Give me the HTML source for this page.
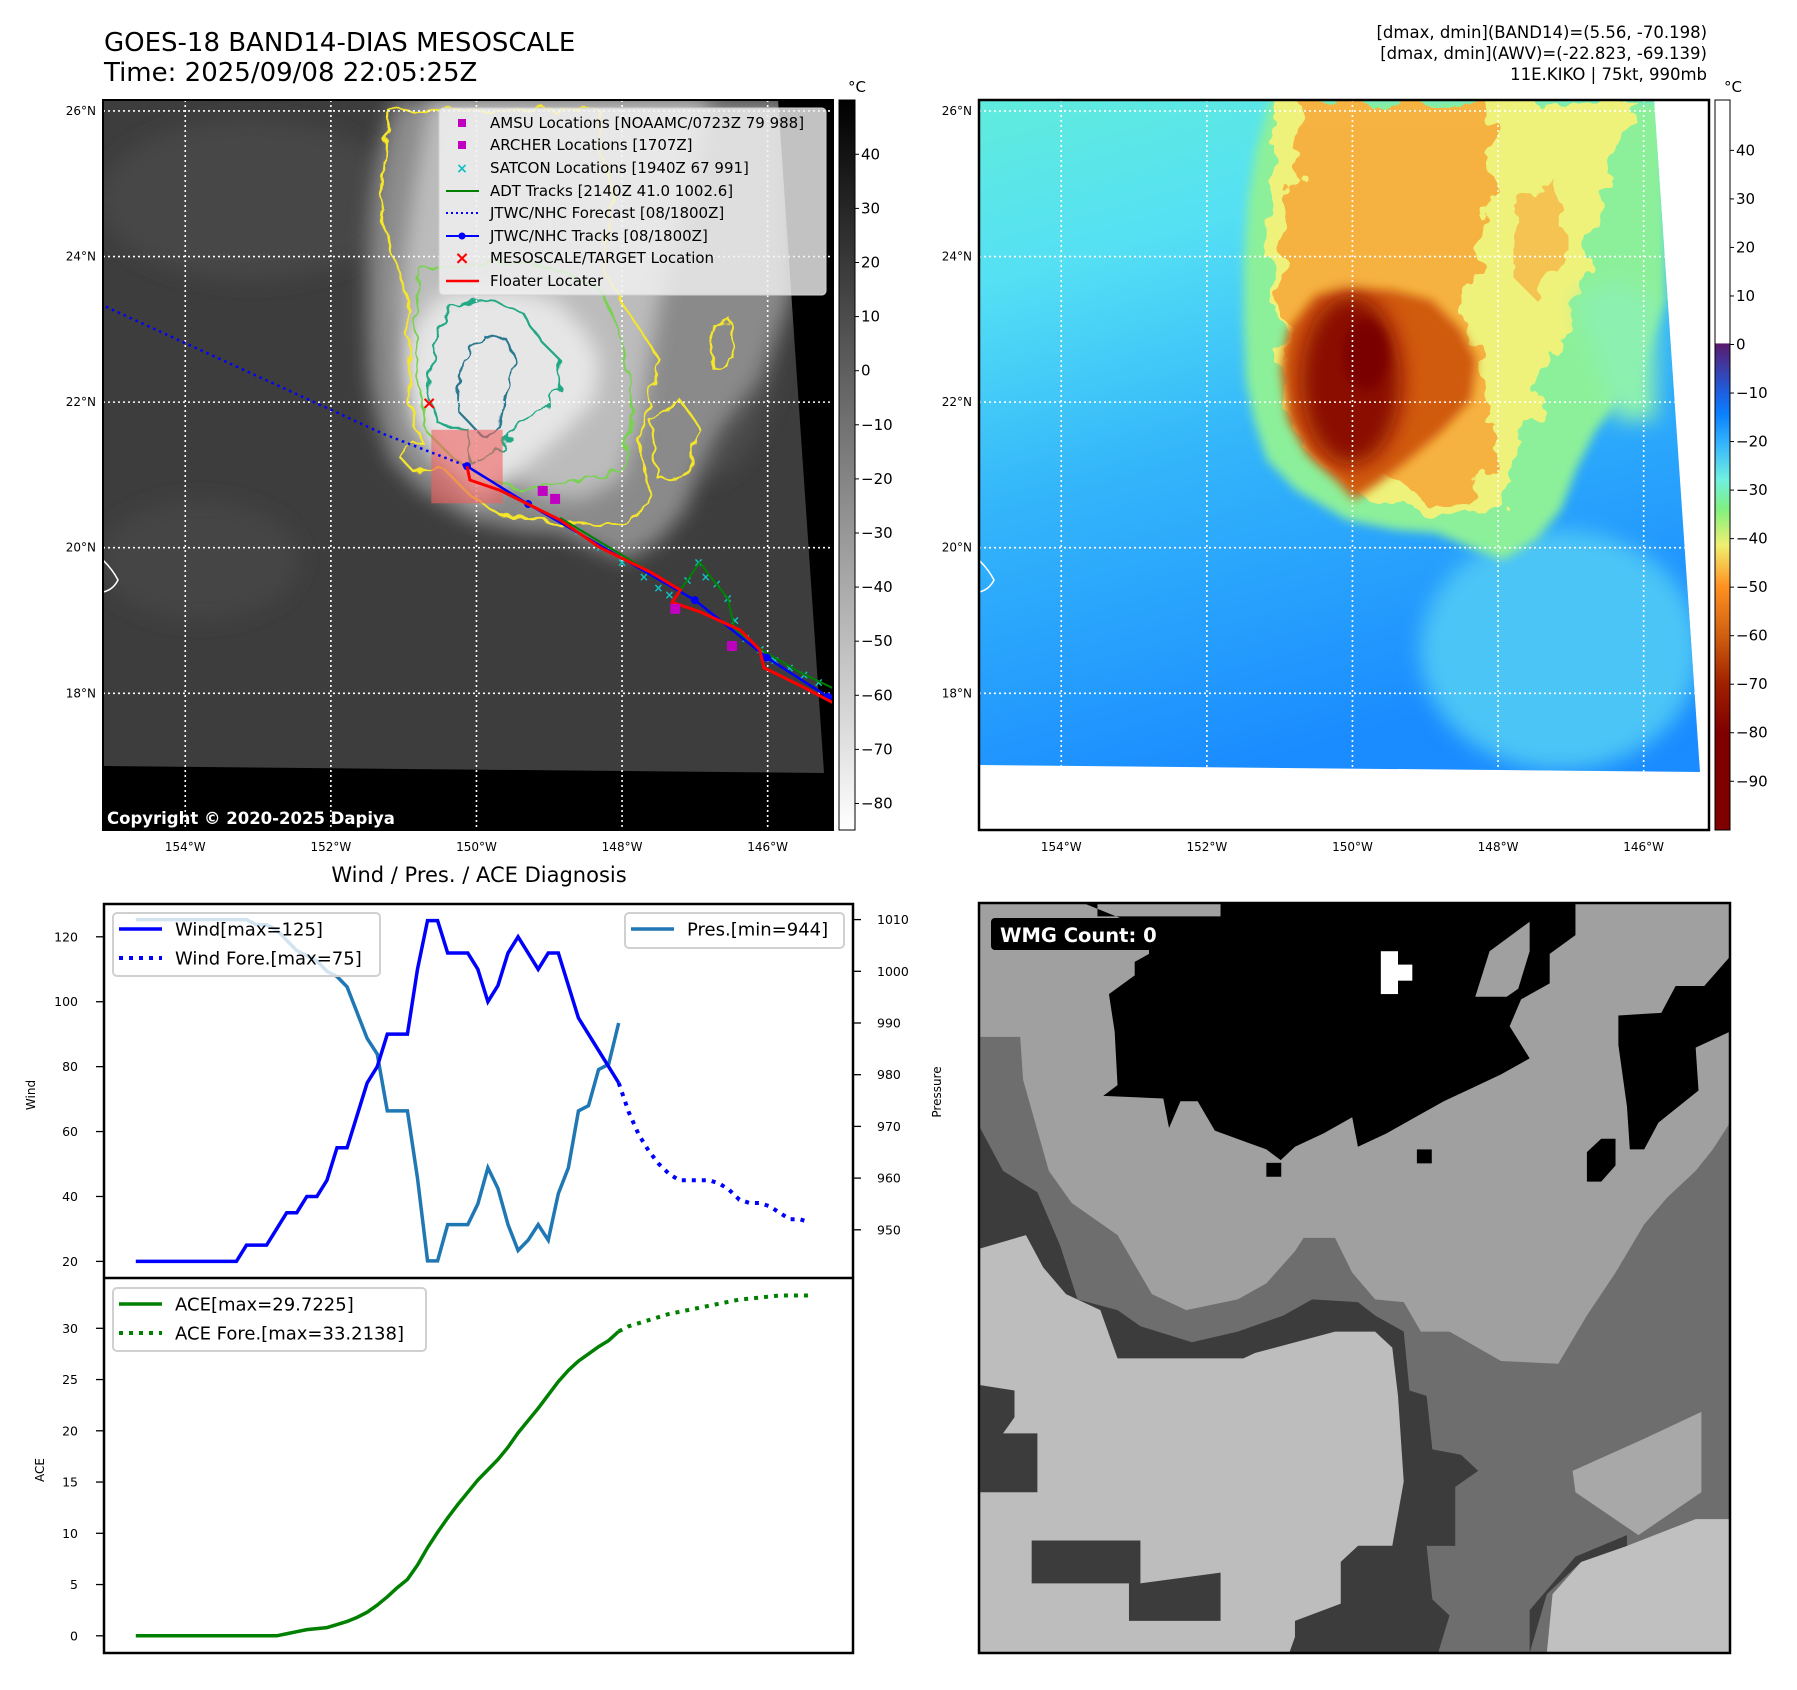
<!DOCTYPE html>
<html><head><meta charset="utf-8"><title>GOES-18 BAND14 DIAS Mesoscale - KIKO</title>
<style>
html,body{margin:0;padding:0;background:#fff;}
svg{display:block;font-family:"DejaVu Sans","Liberation Sans",sans-serif;}
</style></head>
<body>
<svg id="fig" width="1797" height="1690" viewBox="0 0 1797 1690" xmlns="http://www.w3.org/2000/svg">
<defs>
  <filter id="blur4" x="-20%" y="-20%" width="140%" height="140%"><feGaussianBlur stdDeviation="5"/></filter>
  <filter id="blur8" x="-20%" y="-20%" width="140%" height="140%"><feGaussianBlur stdDeviation="10"/></filter>
  <filter id="rough" x="-5%" y="-5%" width="110%" height="110%">
    <feTurbulence type="fractalNoise" baseFrequency="0.06" numOctaves="2" seed="3" result="n"/>
    <feDisplacementMap in="SourceGraphic" in2="n" scale="14"/>
  </filter>
  <filter id="patchy" x="-5%" y="-5%" width="110%" height="110%">
    <feTurbulence type="fractalNoise" baseFrequency="0.035" numOctaves="3" seed="7" result="n"/>
    <feDisplacementMap in="SourceGraphic" in2="n" scale="40"/>
  </filter>
  <clipPath id="clipL"><polygon points="103,100 778,100 824,773 103,766"/></clipPath>
  <clipPath id="clipR"><polygon points="979,100 1654,100 1700,772 979,765"/></clipPath>
  <clipPath id="frameL"><rect x="103" y="100" width="730" height="730"/></clipPath>
  <linearGradient id="gcbL" x1="0" y1="0" x2="0" y2="1">
    <stop offset="0" stop-color="#000"/><stop offset="1" stop-color="#fff"/>
  </linearGradient>
  <linearGradient id="gcbR" x1="0" y1="0" x2="0" y2="1">
    <stop offset="0" stop-color="#fff"/><stop offset="0.333" stop-color="#fff"/>
    <stop offset="0.334" stop-color="#5a1a6e"/><stop offset="0.40" stop-color="#1e5ee0"/>
    <stop offset="0.43" stop-color="#0a80ff"/><stop offset="0.467" stop-color="#30b0ff"/>
    <stop offset="0.52" stop-color="#70f0e0"/><stop offset="0.56" stop-color="#80f080"/>
    <stop offset="0.61" stop-color="#f0f070"/><stop offset="0.667" stop-color="#ff9020"/>
    <stop offset="0.733" stop-color="#d06010"/><stop offset="0.80" stop-color="#a02000"/>
    <stop offset="0.867" stop-color="#800000"/><stop offset="1" stop-color="#800000"/>
  </linearGradient>
  <linearGradient id="gSea" x1="0" y1="0" x2="0.3" y2="1">
    <stop offset="0" stop-color="#60ecdc"/><stop offset="0.25" stop-color="#55e0f4"/>
    <stop offset="0.55" stop-color="#34b6fa"/><stop offset="1" stop-color="#1a8cff"/>
  </linearGradient>
</defs>

<!-- Titles -->
<text x="104" y="51" font-size="26">GOES-18 BAND14-DIAS MESOSCALE</text>
<text x="104" y="81" font-size="26">Time: 2025/09/08 22:05:25Z</text>
<g font-size="16.5" text-anchor="end">
  <text x="1707" y="38">[dmax, dmin](BAND14)=(5.56, -70.198)</text>
  <text x="1707" y="59">[dmax, dmin](AWV)=(-22.823, -69.139)</text>
  <text x="1707" y="80">11E.KIKO | 75kt, 990mb</text>
</g>

<!-- LEFT MAP -->
<g>
  <rect x="103" y="100" width="730" height="730" fill="#000"/>
  <g clip-path="url(#clipL)">
    <rect x="103" y="100" width="730" height="680" fill="#3d3d3d"/>
    <ellipse cx="250" cy="200" rx="150" ry="80" fill="#474747" filter="url(#blur8)"/>
    <ellipse cx="200" cy="560" rx="100" ry="60" fill="#444" filter="url(#blur8)"/>
    <ellipse cx="700" cy="330" rx="80" ry="150" fill="#4c4c4c" filter="url(#blur8)"/>
    <g>
      <polygon points="395,100 380,150 372,200 368,260 368,320 370,380 378,420 391,460 420,490 471,520 520,530 560,533 600,550 627,560 660,540 685,510 700,470 720,430 760,380 790,300 790,100" fill="#8a8a8a" filter="url(#blur8)"/>
      <polygon points="430,100 415,180 405,250 400,300 405,350 420,390 440,420 470,445 500,470 540,495 580,500 620,480 640,420 650,360 660,300 680,230 700,150 710,100" fill="#bcbcbc" filter="url(#blur8)"/>
      <polygon points="440,295 412,330 405,370 412,420 432,455 460,480 478,500 500,485 530,462 565,432 595,400 600,360 585,330 555,300 515,290 475,290" fill="#e6e6e6" filter="url(#blur8)"/>
    </g>
    <g fill="none" stroke-width="2.2" filter="url(#rough)">
      <polygon points="388,110 385,160 380,210 395,260 408,300 408,350 410,400 420,440 398,455 412,470 445,470 470,495 500,515 560,522 620,525 650,505 645,470 640,440 648,400 660,360 640,330 620,300 605,270 605,230 615,200 600,150 600,110" stroke="#f5e62a"/>
      <polygon points="420,270 415,320 418,380 425,430 450,455 480,475 520,490 580,480 620,470 632,430 630,380 620,330 600,290 560,270 520,262 470,265" stroke="#7ad151"/>
      <polygon points="440,320 432,360 430,400 440,425 468,430 470,463 500,450 520,420 540,410 560,390 560,360 540,340 520,310 490,300 460,303" stroke="#22a884"/>
      <polygon points="483,335 463,360 457,393 460,413 483,437 500,420 507,387 517,360 507,340" stroke="#2a788e"/>
      <polygon points="650,420 680,400 700,430 690,470 660,480" stroke="#f5e62a"/>
      <polygon points="710,330 730,320 735,360 715,370" stroke="#f5e62a"/>
    </g>
    <path d="M103,560 q10,10 15,20 q-5,10 -15,12" fill="none" stroke="#fff" stroke-width="1.5"/>
  </g>
  <g id="gridL" stroke="#fff" stroke-width="1.6" stroke-dasharray="2,3" clip-path="url(#frameL)"></g>
  <rect id="redbox" fill="#f06060" fill-opacity="0.6"/>
  <g id="tracks"></g>
  <text x="107" y="824" font-size="16.5" font-weight="bold" fill="#fff">Copyright © 2020-2025 Dapiya</text>
  <rect x="103" y="100" width="730" height="730" fill="none" stroke="#000" stroke-width="2"/>
  <g>
    <rect x="439" y="108" width="387" height="187" rx="4" fill="#f2f2f2" fill-opacity="0.8" stroke="#d0d0d0"/>
    <g font-size="15">
      <rect x="458" y="119" width="8" height="8" fill="#c000c0"/><text x="490" y="128">AMSU Locations [NOAAMC/0723Z 79 988]</text>
      <rect x="458" y="141" width="8" height="8" fill="#c000c0"/><text x="490" y="150">ARCHER Locations [1707Z]</text>
      <text x="462" y="173" fill="#10c0c0" font-size="14" font-weight="bold" text-anchor="middle">×</text><text x="490" y="173">SATCON Locations [1940Z 67 991]</text>
      <line x1="446" y1="191" x2="479" y2="191" stroke="#008000" stroke-width="2"/><text x="490" y="196">ADT Tracks [2140Z 41.0 1002.6]</text>
      <line x1="446" y1="213" x2="479" y2="213" stroke="#0000ff" stroke-width="2" stroke-dasharray="2,3"/><text x="490" y="218">JTWC/NHC Forecast [08/1800Z]</text>
      <line x1="446" y1="236" x2="479" y2="236" stroke="#0000ff" stroke-width="2"/><circle cx="462" cy="236" r="3.5" fill="#0000ff"/><text x="490" y="241">JTWC/NHC Tracks [08/1800Z]</text>
      <text x="462" y="264" fill="#ff0000" font-size="18" font-weight="bold" text-anchor="middle">×</text><text x="490" y="263">MESOSCALE/TARGET Location</text>
      <line x1="446" y1="281" x2="479" y2="281" stroke="#ff0000" stroke-width="2.5"/><text x="490" y="286">Floater Locater</text>
    </g>
  </g>
  <rect x="839" y="100" width="16" height="730" fill="url(#gcbL)" stroke="#000" stroke-width="1"/>
  <text x="848" y="92" font-size="15">°C</text>
  <g id="cbL" font-size="15"></g>
</g>

<!-- RIGHT MAP -->
<g>
  <rect x="979" y="100" width="730" height="730" fill="#fff"/>
  <g clip-path="url(#clipR)">
    <rect x="979" y="100" width="730" height="680" fill="url(#gSea)"/>
    <ellipse cx="1560" cy="650" rx="140" ry="120" fill="#4cc4f6" filter="url(#blur8)"/>
    <g transform="translate(876,0)">
      <polygon points="395,100 380,150 372,200 368,260 368,320 370,380 378,420 391,460 420,490 471,520 520,530 560,533 600,550 627,560 660,540 685,510 700,470 720,430 760,380 790,300 790,100" fill="#8cf09a" filter="url(#blur4)"/>
      <polygon points="400,100 392,180 390,250 400,300 405,350 410,400 420,440 450,470 500,500 560,515 620,510 640,470 650,420 680,360 700,300 720,220 740,150 760,100" fill="#eef27a" filter="url(#patchy)"/>
      <polygon points="700,300 740,280 780,300 780,420 740,420" fill="#8cf0b0" filter="url(#blur8)"/>
      <polygon points="430,100 420,180 410,250 405,300 410,350 420,390 440,420 470,445 500,470 540,495 580,500 610,470 620,420 600,360 590,300 610,230 620,150 610,100" fill="#f8a838" filter="url(#patchy)" opacity="0.85"/>
      <polygon points="640,200 680,180 690,260 660,300 640,280" fill="#f8b040" filter="url(#patchy)" opacity="0.7"/>
      <polygon points="440,295 412,330 405,370 412,420 432,455 460,480 478,500 500,485 530,462 565,432 595,400 600,360 585,330 555,300 515,290 475,290" fill="#d05a10" filter="url(#blur4)"/>
      <ellipse cx="475" cy="380" rx="50" ry="85" fill="#8a1000" filter="url(#blur8)"/>
      <ellipse cx="490" cy="355" rx="22" ry="35" fill="#7a0000" filter="url(#blur4)"/>
    </g>
    <path d="M979,560 q10,10 15,20 q-5,10 -15,12" fill="none" stroke="#fff" stroke-width="1.5"/>
  </g>
  <g id="gridR" stroke="#fff" stroke-width="1.6" stroke-dasharray="2,3" clip-path="url(#clipR)"></g>
  <rect x="979" y="100" width="730" height="730" fill="none" stroke="#000" stroke-width="2.5"/>
  <rect x="1715" y="100" width="15" height="730" fill="url(#gcbR)" stroke="#000" stroke-width="1"/>
  <text x="1724" y="92" font-size="15">°C</text>
  <g id="cbR" font-size="15"></g>
</g>
<g id="mapLabels" font-size="12"></g>

<!-- BOTTOM LEFT CHART -->
<text x="479" y="882" font-size="21" text-anchor="middle">Wind / Pres. / ACE Diagnosis</text>
<g id="chart"></g>

<!-- BOTTOM RIGHT -->
<g>
  <svg x="979" y="903" width="751" height="750" viewBox="138 100 1312 1400" preserveAspectRatio="none">
    <rect x="138" y="100" width="1312" height="1400" fill="#a0a0a0"/>
    <polygon fill="#6e6e6e" points="140,350 210,350 215,430 260,600 300,660 380,720 440,830 500,860 590,840 640,810 690,750 705,725 760,725 790,790 830,840 880,845 910,900 960,900 1050,955 1150,960 1200,870 1250,790 1300,700 1340,650 1390,600 1420,560 1450,510 1450,1500 140,1500"/>
    <polygon fill="#3c3c3c" points="140,520 180,600 240,640 280,740 310,840 380,860 420,890 510,920 590,900 670,870 720,840 800,845 830,870 880,900 890,1010 920,1020 930,1120 980,1130 1010,1160 970,1190 970,1300 920,1300 930,1400 960,1430 940,1500 140,1500"/>
    <polygon fill="#bdbdbd" points="140,745 220,720 250,780 290,830 350,860 380,950 600,950 620,940 760,900 830,900 860,930 870,1020 880,1180 860,1300 800,1300 770,1330 770,1430 700,1440 680,1500 140,1500"/>
    <polygon fill="#3c3c3c" points="230,1290 420,1290 420,1370 560,1350 560,1440 400,1440 400,1370 230,1370"/>
    <polygon fill="#3c3c3c" points="140,1000 200,1010 200,1060 180,1090 240,1090 240,1200 190,1200 140,1200"/>
    <polygon fill="#3c3c3c" points="690,1440 790,1400 800,1300 860,1300 870,1500 690,1500"/>
    <polygon fill="#a8a8a8" points="1175,1160 1300,1100 1400,1050 1400,1200 1290,1280 1180,1200"/>
    <polygon fill="#c0c0c0" points="1140,1390 1190,1330 1270,1300 1390,1250 1450,1250 1450,1500 1130,1500"/>
    <polygon fill="#3c3c3c" points="1100,1500 1130,1390 1190,1330 1270,1300 1270,1280 1180,1320 1100,1420"/>
    <polygon fill="#000" points="320,100 345,100 345,125 560,125 560,100 1180,100 1180,160 1135,195 1135,250 1085,280 1065,330 1100,390 1050,420 1000,445 950,470 900,500 850,530 800,555 790,500 740,530 690,555 665,580 640,560 550,525 520,470 490,470 470,520 460,465 355,460 380,440 375,340 365,270 410,235 410,210 435,195 435,150"/>
    <polygon fill="#a0a0a0" points="1030,190 1100,135 1100,190 1080,260 1060,275 1005,275"/>
    <polygon fill="#000" points="1255,310 1330,305 1355,255 1405,255 1450,200 1450,340 1390,370 1395,450 1325,510 1300,560 1275,560 1270,480 1255,365"/>
    <polygon fill="#000" points="1200,565 1225,540 1250,540 1250,590 1225,620 1200,620"/>
    <rect x="840" y="190" width="30" height="80" fill="#fff"/><rect x="865" y="215" width="30" height="30" fill="#fff"/>
    <rect x="903" y="560" width="26" height="26" fill="#000"/><rect x="640" y="585" width="26" height="26" fill="#000"/>
  </svg>
  <rect x="979" y="903" width="751" height="750" fill="none" stroke="#000" stroke-width="2.5"/>
  <rect x="991" y="918" width="180" height="32" rx="4" fill="#000"/>
  <text x="1000" y="942" font-size="19.5" font-weight="bold" fill="#fff">WMG Count: 0</text>
</g>

<script>
// ---- chart data ----
var windObs = [20,20,20,20,20,20,20,20,20,20,20,25,25,25,30,35,35,40,40,45,55,55,65,75,80,90,90,90,110,125,125,115,115,115,110,100,105,115,120,115,110,115,115,105,95,90,85,80,75];
var presObs = [1010,1010,1010,1010,1010,1010,1010,1010,1010,1010,1010,1010,1009,1009,1008,1006,1004,1003,1002,1000,999,997,992,987,984,973,973,973,960,944,944,951,951,951,955,962,958,951,946,948,951,948,957,962,973,974,981,982,990];
var aceObs = [0,0,0,0,0,0,0,0,0,0,0,0,0,0,0,0.2,0.4,0.6,0.7,0.8,1.1,1.4,1.8,2.3,3.0,3.8,4.7,5.5,6.9,8.6,10.1,11.5,12.8,14.0,15.2,16.2,17.2,18.4,19.8,21.0,22.2,23.5,24.8,25.9,26.8,27.5,28.2,28.8,29.7];
var windFcst = [75,66,59,54,50,47,45,45,45,45,44,42,39,38,38,37,35,33,33,32];
var aceFcst = [29.7,30.2,30.5,30.8,31.1,31.4,31.6,31.8,32.0,32.2,32.4,32.6,32.8,32.9,33.0,33.1,33.2,33.2,33.2,33.2];
var windTicks = [20,40,60,80,100,120];
var presTicks = [950,960,970,980,990,1000,1010];
var aceTicks = [0,5,10,15,20,25,30];
var cbLTicks = [40,30,20,10,0,-10,-20,-30,-40,-50,-60,-70,-80];
var cbRTicks = [40,30,20,10,0,-10,-20,-30,-40,-50,-60,-70,-80,-90];
var latTicks = [26,24,22,20,18];
var lonTicks = [-154,-152,-150,-148,-146];
var fcstLon = [-155.09,-151.27,-150.13], fcstLat = [23.31,21.56,21.12];
var jtwcLon = [-150.13,-149.29,-147.0,-146.01,-145.17], jtwcLat = [21.12,20.60,19.28,18.49,17.95];
var floatLon = [-150.13,-150.09,-149.68,-148.85,-148.30,-147.62,-147.2,-147.31,-146.93,-146.38,-146.11,-146.05,-145.56,-145.10];
var floatLat = [21.12,20.93,20.79,20.38,20.0,19.67,19.42,19.25,19.12,18.87,18.60,18.35,18.11,17.87];
var adtLon = [-148.85,-148.17,-147.55,-147.2,-146.93,-146.77,-146.55,-146.45,-146.04,-145.56,-145.10];
var adtLat = [20.41,20.0,19.63,19.42,19.80,19.58,19.31,18.87,18.57,18.29,18.07];
var satLon = [-148.6,-148.3,-148.0,-147.7,-147.5,-147.35,-147.1,-146.95,-146.85,-146.7,-146.55,-146.45,-146.3,-146.1,-145.9,-145.7,-145.5,-145.3];
var satLat = [20.22,20.0,19.8,19.6,19.45,19.35,19.55,19.8,19.6,19.5,19.3,19.0,18.75,18.6,18.45,18.35,18.25,18.15];
var amsuLon = [-149.09,-148.92,-147.27,-146.49], amsuLat = [20.78,20.67,19.16,18.65];
var tgtLon = -150.65, tgtLat = 21.99;
var boxLon = [-150.62,-149.64], boxLat = [21.62,20.61];

var NS = 'http://www.w3.org/2000/svg';
function mk(tag, attrs, parent){var e=document.createElementNS(NS,tag);for(var k in attrs)e.setAttribute(k,attrs[k]);(parent||document.getElementById('fig')).appendChild(e);return e;}
function mx(lon){return 103+(lon+155.13)*72.8;}
function my(lat){return 100+(26.15-lat)*72.8;}
function pts(xs,ys,fx,fy){return xs.map(function(v,i){return fx(v)+','+fy(ys[i]);}).join(' ');}

var gL=document.getElementById('gridL'), gR=document.getElementById('gridR'), ml=document.getElementById('mapLabels');
latTicks.forEach(function(la){
  var y=my(la);
  mk('line',{x1:103,y1:y,x2:833,y2:y},gL);
  mk('line',{x1:979,y1:y,x2:1709,y2:y},gR);
  var t1=mk('text',{x:96,y:y+4,'text-anchor':'end'},ml);t1.textContent=la+'°N';
  
  
  var t2=mk('text',{x:972,y:y+4,'text-anchor':'end'},ml);t2.textContent=la+'°N';
  
  
});
lonTicks.forEach(function(lo){
  var x=mx(lo);
  mk('line',{x1:x,y1:100,x2:x,y2:830},gL);
  mk('line',{x1:x+876,y1:100,x2:x+876,y2:830},gR);
  var t1=mk('text',{x:x,y:851,'text-anchor':'middle'},ml);t1.textContent=(-lo)+'°W';
  
  
  var t2=mk('text',{x:x+876,y:851,'text-anchor':'middle'},ml);t2.textContent=(-lo)+'°W';
  
  
});
function cbL(v){return 830-(v+84.9)*5.41;}
function cbR(v){return 344.5-v*4.853;}
cbLTicks.forEach(function(v){var y=cbL(v);mk('line',{x1:855,y1:y,x2:859,y2:y,stroke:'#000'},document.getElementById('cbL'));var t=mk('text',{x:861,y:y+5},document.getElementById('cbL'));t.textContent=(v<0?'\u2212'+(-v):v);
  
  });
cbRTicks.forEach(function(v){var y=cbR(v);mk('line',{x1:1730,y1:y,x2:1734,y2:y,stroke:'#000'},document.getElementById('cbR'));var t=mk('text',{x:1736,y:y+5},document.getElementById('cbR'));t.textContent=(v<0?'\u2212'+(-v):v);
  
  });

var rb=document.getElementById('redbox');
rb.setAttribute('x',mx(boxLon[0]));rb.setAttribute('y',my(boxLat[0]));
rb.setAttribute('width',mx(boxLon[1])-mx(boxLon[0]));rb.setAttribute('height',my(boxLat[1])-my(boxLat[0]));
var tr=document.getElementById('tracks');
var f=mk('polyline',{points:pts(fcstLon,fcstLat,mx,my),fill:'none',stroke:'#0000ff','stroke-width':2.5,'stroke-dasharray':'2.5,4'},tr);


satLon.forEach(function(lo,i){var t=mk('text',{x:mx(lo),y:my(satLat[i])+4,'text-anchor':'middle','font-size':12,'font-weight':'bold',fill:'#10c0c0'},tr);t.textContent='×';
  
  });
var a=mk('polyline',{points:pts(adtLon,adtLat,mx,my),fill:'none',stroke:'#008000','stroke-width':2},tr);


var j=mk('polyline',{points:pts(jtwcLon,jtwcLat,mx,my),fill:'none',stroke:'#0000ff','stroke-width':2.5},tr);


jtwcLon.forEach(function(lo,i){var c=mk('circle',{cx:mx(lo),cy:my(jtwcLat[i]),r:4,fill:'#0000ff'},tr);
  
  });
var fl=mk('polyline',{points:pts(floatLon,floatLat,mx,my),fill:'none',stroke:'#ff0000','stroke-width':3},tr);


amsuLon.forEach(function(lo,i){var s=mk('rect',{x:mx(lo)-5,y:my(amsuLat[i])-5,width:10,height:10,fill:'#c000c0'},tr);
  
  });
var tx=mk('text',{x:mx(tgtLon),y:my(tgtLat)+6,'text-anchor':'middle','font-size':18,'font-weight':'bold',fill:'#ff0000'},tr);tx.textContent='×';



// ---- chart ----
var ch=document.getElementById('chart');
function xI(i){return 135.8+i*10.06;}
function yW(v){return 1261.4-(v-20)*3.246;}
function yP(p){return 919.6+(1010-p)*5.17;}
function yA(v){return 1635.8-v*10.25;}
var idx=windObs.map(function(_,i){return i;});
var fidx=windFcst.map(function(_,k){return 48+k;});
mk('rect',{x:104,y:904,width:749,height:749,fill:'#fff'},ch);
windTicks.forEach(function(v){var y=yW(v);mk('line',{x1:96,y1:y,x2:104,y2:y,stroke:'#000','stroke-width':1.3},ch);var t=mk('text',{x:78,y:y+4.5,'text-anchor':'end','font-size':12.5},ch);t.textContent=v;
  
  });
presTicks.forEach(function(v){var y=yP(v);mk('line',{x1:853,y1:y,x2:861,y2:y,stroke:'#000','stroke-width':1.3},ch);var t=mk('text',{x:877,y:y+4.5,'font-size':12.5},ch);t.textContent=v;
  
  });
aceTicks.forEach(function(v){var y=yA(v);mk('line',{x1:96,y1:y,x2:104,y2:y,stroke:'#000','stroke-width':1.3},ch);var t=mk('text',{x:78,y:y+4.5,'text-anchor':'end','font-size':12.5},ch);t.textContent=v;
  
  });
var yl=mk('text',{x:35,y:1095,'font-size':12,'text-anchor':'middle',transform:'rotate(-90 35 1095)'},ch);yl.textContent='Wind';


var yl2=mk('text',{x:941,y:1092,'font-size':12,'text-anchor':'middle',transform:'rotate(-90 941 1092)'},ch);yl2.textContent='Pressure';


var yl3=mk('text',{x:44,y:1470,'font-size':12,'text-anchor':'middle',transform:'rotate(-90 44 1470)'},ch);yl3.textContent='ACE';


var pl=mk('polyline',{points:pts(idx,presObs,xI,yP),fill:'none',stroke:'#1f77b4','stroke-width':3.5},ch);


var wl=mk('polyline',{points:pts(idx,windObs,xI,yW),fill:'none',stroke:'#0000ff','stroke-width':3.5},ch);


var wf=mk('polyline',{points:pts(fidx,windFcst,xI,yW),fill:'none',stroke:'#0000ff','stroke-width':4,'stroke-dasharray':'4,6'},ch);


var al=mk('polyline',{points:pts(idx,aceObs,xI,yA),fill:'none',stroke:'#008000','stroke-width':3.5},ch);


var af=mk('polyline',{points:pts(fidx,aceFcst,xI,yA),fill:'none',stroke:'#008000','stroke-width':4,'stroke-dasharray':'4,6'},ch);


mk('rect',{x:104,y:904,width:749,height:749,fill:'none',stroke:'#000','stroke-width':2.5},ch);
mk('line',{x1:104,y1:1278,x2:853,y2:1278,stroke:'#000','stroke-width':2.5},ch);
function legend(x,y,w,h,items,name){
  var g=mk('g',{},ch);
  
  
  mk('rect',{x:x,y:y,width:w,height:h,rx:4,fill:'#fff','fill-opacity':0.8,stroke:'#d0d0d0','stroke-width':2},g);
  items.forEach(function(it,i){var yy=y+16+i*29;
    mk('line',{x1:x+6,y1:yy,x2:x+49,y2:yy,stroke:it[1],'stroke-width':it[2]?4:3.5,'stroke-dasharray':it[2]?'4,6':'none'},g);
    var t=mk('text',{x:x+62,y:yy+6.5,'font-size':18},g);t.textContent=it[0];});
}
legend(113,913,267,63,[['Wind[max=125]','#0000ff',0],['Wind Fore.[max=75]','#0000ff',1]],'wind-legend');
legend(625,913,219,35,[['Pres.[min=944]','#1f77b4',0]],'pressure-legend');
legend(113,1288,313,63,[['ACE[max=29.7225]','#008000',0],['ACE Fore.[max=33.2138]','#008000',1]],'ace-legend');
</script>
</svg>
</body></html>
